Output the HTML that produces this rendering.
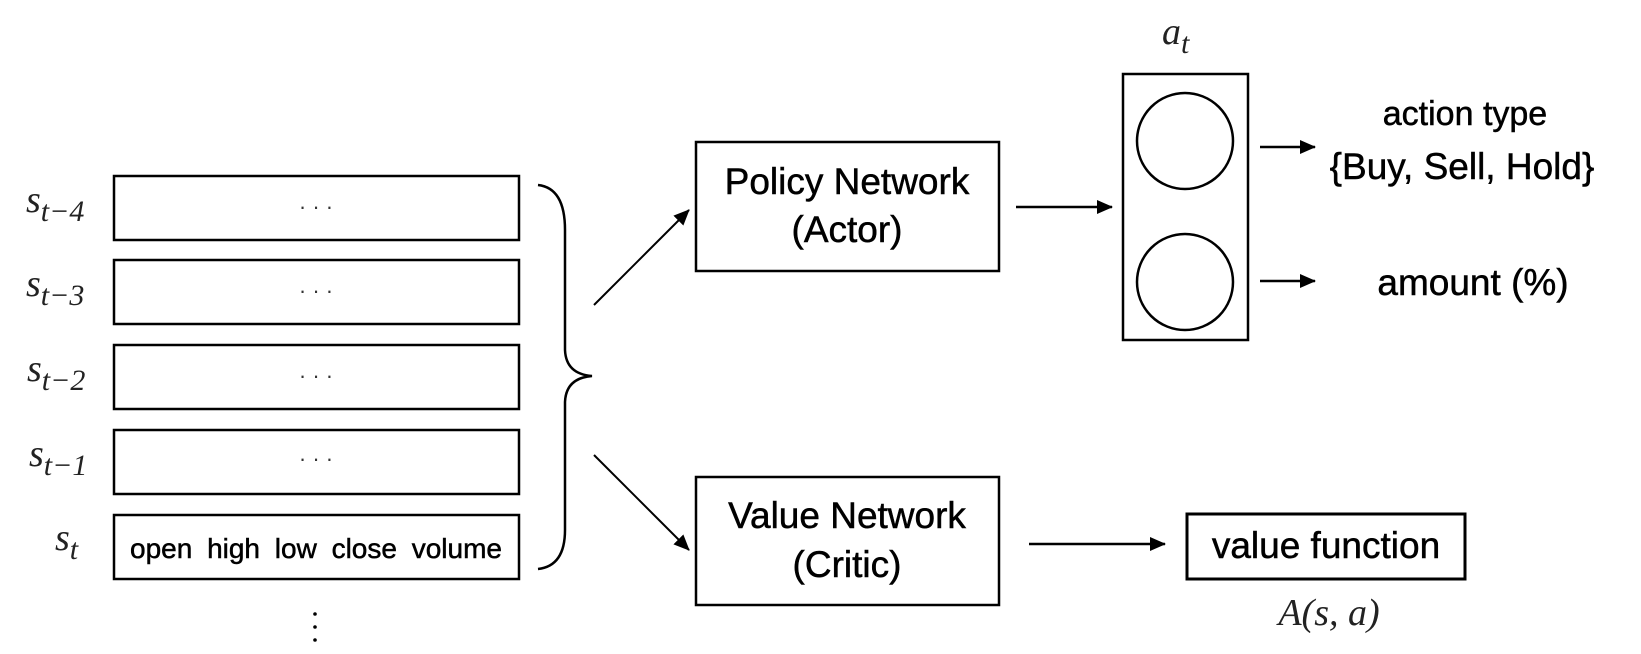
<!DOCTYPE html>
<html><head><meta charset="utf-8"><style>
body{margin:0;background:#fff;}
svg{display:block}
.s{font-family:"Liberation Sans",sans-serif;fill:#000;stroke:#000;stroke-width:0.5}
.m{font-family:"Liberation Serif",serif;font-style:italic;fill:#222}
</style></head><body>
<svg width="1641" height="654" viewBox="0 0 1641 654">
<defs>
<marker id="ah2" markerWidth="16" markerHeight="14" refX="15" refY="7" orient="auto" markerUnits="userSpaceOnUse"><path d="M0,0 L16,7 L0,14 z" fill="#000"/></marker></defs>
<g fill="none" stroke="#000" stroke-width="2.5">
<rect x="114" y="176" width="405" height="64"/>
<rect x="114" y="260" width="405" height="64"/>
<rect x="114" y="345" width="405" height="64"/>
<rect x="114" y="430" width="405" height="64"/>
<rect x="114" y="515" width="405" height="64"/>
<path d="M538,185 Q565,188 565,230 L565,350 Q566,374 592,376 Q566,378 565,402 L565,530 Q565,566 538,569"/>
<rect x="696" y="142" width="303" height="129"/>
<rect x="696" y="477" width="303" height="128"/>
<rect x="1123" y="74" width="125" height="266"/>
<circle cx="1185" cy="141" r="48"/>
<circle cx="1185" cy="282" r="48"/>
<rect x="1187" y="514" width="278" height="65" stroke-width="3"/>
</g>
<g stroke="#000" stroke-width="2" fill="none">
<line x1="594" y1="305" x2="689" y2="210" marker-end="url(#ah2)"/>
<line x1="594" y1="455" x2="689" y2="550" marker-end="url(#ah2)"/>
<line x1="1016" y1="207" x2="1112" y2="207" stroke-width="2.5" marker-end="url(#ah2)"/>
<line x1="1260" y1="147" x2="1315" y2="147" stroke-width="2.5" marker-end="url(#ah2)"/>
<line x1="1260" y1="281" x2="1315" y2="281" stroke-width="2.5" marker-end="url(#ah2)"/>
<line x1="1029" y1="544" x2="1165" y2="544" stroke-width="2.5" marker-end="url(#ah2)"/>
</g>
<g class="m" font-size="38">
<text x="26" y="212">s<tspan font-size="30" dy="9">t−4</tspan></text>
<text x="26" y="296">s<tspan font-size="30" dy="9">t−3</tspan></text>
<text x="27" y="381">s<tspan font-size="30" dy="9">t−2</tspan></text>
<text x="29" y="466">s<tspan font-size="30" dy="9">t−1</tspan></text>
<text x="55" y="550">s<tspan font-size="30" dy="9">t</tspan></text>
<text x="1162" y="44">a<tspan font-size="30" dy="9">t</tspan></text>
<text x="1329" y="625" text-anchor="middle">A(s, a)</text>
</g>
<g font-family="Liberation Sans,sans-serif" font-size="22" text-anchor="middle" fill="#333">
<text x="316" y="214">· · ·</text>
<text x="316" y="298">· · ·</text>
<text x="316" y="383">· · ·</text>
<text x="316" y="466">· · ·</text>
</g>
<g fill="#000"><circle cx="315" cy="614" r="1.8"/><circle cx="315" cy="627" r="1.8"/><circle cx="315" cy="640" r="1.8"/></g>
<text class="s" x="316" y="558" font-size="28" text-anchor="middle" word-spacing="7">open high low close volume</text>
<g class="s" font-size="37" text-anchor="middle">
<text x="847" y="194">Policy Network</text>
<text x="847" y="242">(Actor)</text>
<text x="847" y="528">Value Network</text>
<text x="847" y="577">(Critic)</text>
<text x="1465" y="125" font-size="34">action type</text>
<text x="1462" y="179">{Buy, Sell, Hold}</text>
<text x="1473" y="295">amount (%)</text>
<text x="1326" y="558">value function</text>
</g>
</svg>
</body></html>
